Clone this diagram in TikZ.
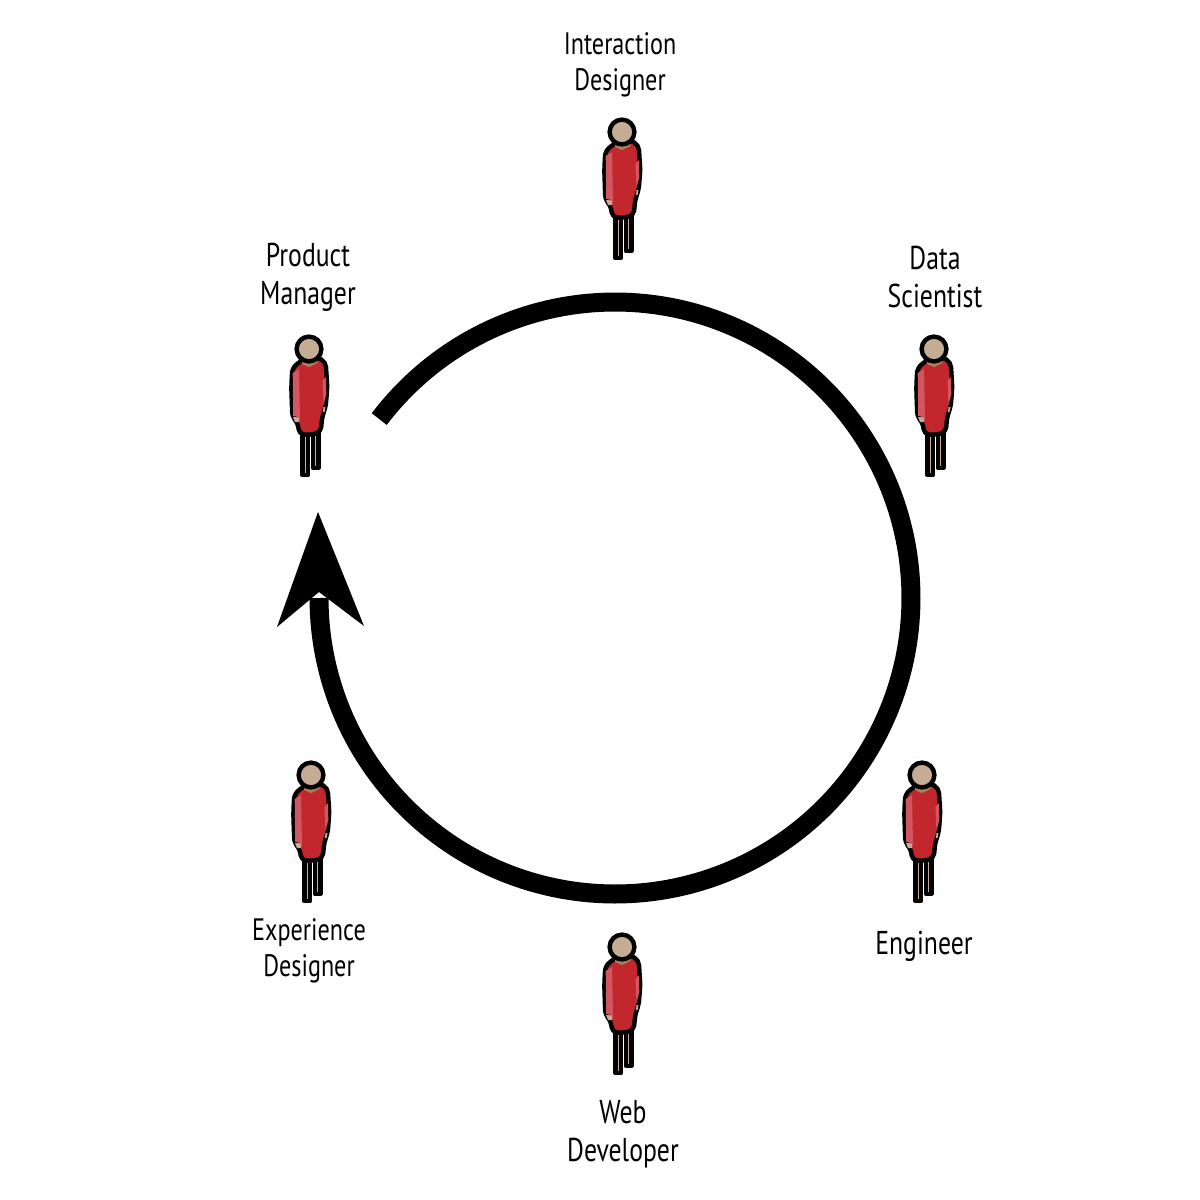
\documentclass[tikz,border=0pt]{standalone}
\usepackage{fontspec}
\setmainfont[FakeStretch=0.78]{PT Sans}
\definecolor{dress}{HTML}{C1272D}
\definecolor{sleeve}{HTML}{D2555F}
\definecolor{skin}{HTML}{C4AD94}
\definecolor{collar}{HTML}{A8825F}
\tikzset{
  x=0.5pt,y=-0.5pt,
  outl/.style={draw=black,line width=2.2pt,line join=round},
  smalllabel/.style={align=center,inner sep=0pt,font=\fontsize{15.5}{18}\selectfont},
  biglabel/.style={align=center,inner sep=0pt,font=\fontsize{16.5}{19}\selectfont},
  ring/.style={draw=black,line width=9.5pt,line cap=butt},
  person/.pic={
    % legs
    \path[outl,fill=skin] (-6.7,80) -- (-1,80) -- (-1,126) -- (-6.7,126) -- cycle;
    \path[outl,fill=skin] (4,80) -- (9.3,80) -- (9.3,119) -- (4,119) -- cycle;
    % body
    \path[outl,fill=dress,rounded corners=2.5pt] (-7,11) -- (-16.7,19) -- (-17.7,38) -- (-16.7,68) -- (-11,74) -- (-10,85) -- (0,86) -- (11.7,83.5) -- (13.3,67) -- (16.7,58) -- (18.3,38) -- (16.7,13) -- (8,8) -- cycle;
    % sleeves
    \fill[sleeve] (-16.3,24) -- (-10,20) -- (-9,68) -- (-15.8,67) -- cycle;
    \fill[sleeve] (13.5,32) -- (17,28) -- (17.3,45) -- (14.5,56) -- cycle;
    % hands
    \fill[skin] (-16,68) -- (-9.5,68.5) -- (-10,73) -- (-14,73) -- cycle;
    \fill[skin] (14.5,58) -- (16.5,58) -- (15.5,63) -- (14,63) -- cycle;
    % neck and head
    \fill[collar] (-7,11) -- (8,11) -- (8.5,14) -- (0,18) -- (-7,15) -- cycle;
    \path[outl,fill=skin] (0,0) circle[radius=6.2pt];
    \fill[collar] (-8,11.5) arc[start angle=230,end angle=310,radius=0pt] -- cycle;
  }
}
\begin{document}
\begin{tikzpicture}
\useasboundingbox[fill=white] (0,0) rectangle (1200,1200);
% ring
\coordinate (ringstart) at ({615+296*cos(217.2)},{598+296*sin(217.2)});
\coordinate (ringend) at (319,598);
\draw[ring] plot[domain=217.2:540,samples=220] ({615+296*cos(\x)},{598+296*sin(\x)});
\fill[black] (318,512) -- (364,626) -- (319,592) -- (277,627) -- cycle;
% persons
\pic at (622,132) {person};
\pic at (309,349) {person};
\pic at (934,349) {person};
\pic at (922,775) {person};
\pic at (311,775) {person};
\pic at (622,947) {person};
% labels
\node[smalllabel] (interaction) at (620,65) {Interaction\\Designer};
\node[biglabel] (product) at (308,277) {Product\\Manager};
\node[biglabel] (data) at (935,277) {Data\\Scientist};
\node[biglabel] (engineer) at (924,946) {Engineer};
\node[smalllabel] (experience) at (309,951) {Experience\\Designer};
\node[biglabel] (web) at (623,1134) {Web\\Developer};
\end{tikzpicture}
\end{document}
